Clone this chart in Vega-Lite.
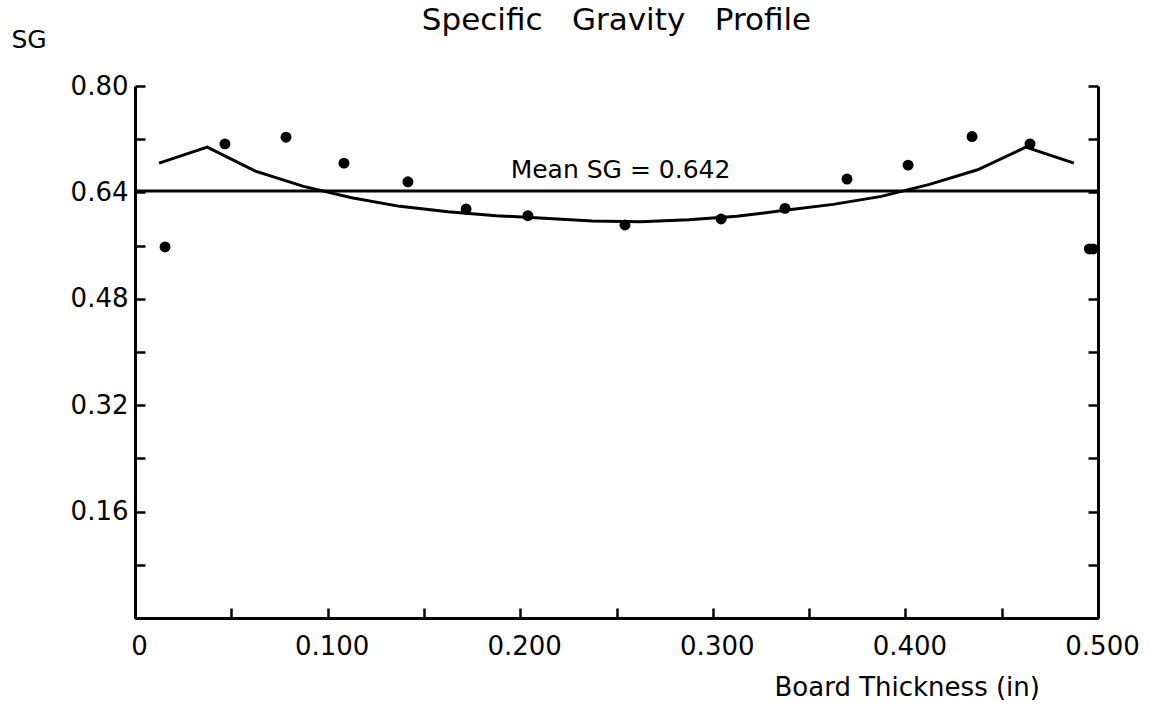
{
  "$schema": "https://vega.github.io/schema/vega-lite/v6.json",
  "width": 963,
  "height": 532,
  "autosize": {"type": "none"},
  "padding": {"left": 135, "top": 86, "right": 55, "bottom": 89},
  "background": "white",
  "config": {
    "font": "DejaVu Sans",
    "view": {"stroke": null},
    "axis": {"grid": false, "domainColor": "black", "tickColor": "black", "labelColor": "black", "titleColor": "black", "domainWidth": 3, "tickWidth": 2.5}
  },
  "title": {
    "text": "Specific \u00a0\u00a0Gravity \u00a0\u00a0Profile",
    "font": "DejaVu Sans",
    "fontSize": 31,
    "fontWeight": "normal",
    "color": "black",
    "anchor": "middle",
    "baseline": "alphabetic",
    "offset": -34
  },
  "datasets": {
    "points": [
      {"t": 0.0156, "sg": 0.558},
      {"t": 0.0467, "sg": 0.713},
      {"t": 0.0784, "sg": 0.723},
      {"t": 0.1085, "sg": 0.684},
      {"t": 0.1417, "sg": 0.656},
      {"t": 0.1719, "sg": 0.615},
      {"t": 0.2040, "sg": 0.605},
      {"t": 0.2544, "sg": 0.591},
      {"t": 0.3043, "sg": 0.600},
      {"t": 0.3375, "sg": 0.616},
      {"t": 0.3697, "sg": 0.660},
      {"t": 0.4014, "sg": 0.681},
      {"t": 0.4346, "sg": 0.724},
      {"t": 0.4647, "sg": 0.713},
      {"t": 0.4955, "sg": 0.555},
      {"t": 0.4975, "sg": 0.555}
    ],
    "profile": [
      {"t": 0.0125, "sg": 0.684},
      {"t": 0.0375, "sg": 0.708},
      {"t": 0.0625, "sg": 0.672},
      {"t": 0.0875, "sg": 0.649},
      {"t": 0.1125, "sg": 0.632},
      {"t": 0.1375, "sg": 0.619},
      {"t": 0.1625, "sg": 0.611},
      {"t": 0.1875, "sg": 0.605},
      {"t": 0.2125, "sg": 0.601},
      {"t": 0.2375, "sg": 0.597},
      {"t": 0.2625, "sg": 0.596},
      {"t": 0.2875, "sg": 0.599},
      {"t": 0.3125, "sg": 0.604},
      {"t": 0.3375, "sg": 0.613},
      {"t": 0.3625, "sg": 0.622},
      {"t": 0.3875, "sg": 0.634},
      {"t": 0.4125, "sg": 0.652},
      {"t": 0.4375, "sg": 0.674},
      {"t": 0.4625, "sg": 0.708},
      {"t": 0.4875, "sg": 0.684}
    ],
    "mean": [
      {"t": 0.25, "sg": 0.642, "label": "Mean SG = 0.642"}
    ]
  },
  "layer": [
    {
      "data": {"name": "mean"},
      "mark": {"type": "rule", "color": "black", "strokeWidth": 3},
      "encoding": {
        "y": {
          "field": "sg", "type": "quantitative",
          "scale": {"domain": [0, 0.8], "nice": false, "zero": false},
          "axis": {
            "orient": "left",
            "values": [0, 0.08, 0.16, 0.24, 0.32, 0.4, 0.48, 0.56, 0.64, 0.72, 0.8],
            "labelExpr": "datum.value > 0.01 && abs(datum.value / 0.16 - round(datum.value / 0.16)) < 0.001 ? format(datum.value, '.2f') : ''",
            "tickSize": -10,
            "labelPadding": 17,
            "labelFontSize": 26,
            "labelFont": "DejaVu Sans",
            "labelOverlap": false,
            "labelFlush": false,
            "title": "SG",
            "titleFont": "DejaVu Sans",
            "titleFontSize": 25,
            "titleFontWeight": "normal",
            "titleAngle": 0,
            "titleAlign": "left",
            "titleBaseline": "alphabetic",
            "titleX": -124,
            "titleY": -39
          }
        }
      }
    },
    {
      "data": {"name": "profile"},
      "mark": {"type": "line", "color": "black", "strokeWidth": 3},
      "encoding": {
        "x": {
          "field": "t", "type": "quantitative",
          "scale": {"domain": [0, 0.5], "nice": false, "zero": false},
          "axis": {
            "values": [0, 0.05, 0.1, 0.15, 0.2, 0.25, 0.3, 0.35, 0.4, 0.45, 0.5],
            "labelExpr": "abs(datum.value * 10 - round(datum.value * 10)) < 0.001 ? (datum.value == 0 ? '0' : format(datum.value, '.3f')) : ''",
            "tickSize": -10,
            "labelPadding": 25,
            "labelFontSize": 26,
            "labelFont": "DejaVu Sans",
            "labelOverlap": false,
            "labelFlush": false,
            "labelOffset": 4,
            "title": "Board Thickness (in)",
            "titleFont": "DejaVu Sans",
            "titleFontSize": 26,
            "titleFontWeight": "normal",
            "titleAlign": "left",
            "titleBaseline": "alphabetic",
            "titleX": 639,
            "titleY": 77
          }
        },
        "y": {
          "field": "sg", "type": "quantitative",
          "scale": {"domain": [0, 0.8], "nice": false, "zero": false},
          "axis": {
            "orient": "right",
            "values": [0, 0.08, 0.16, 0.24, 0.32, 0.4, 0.48, 0.56, 0.64, 0.72, 0.8],
            "labels": false,
            "tickSize": -10,
            "title": null
          }
        }
      }
    },
    {
      "data": {"name": "points"},
      "mark": {"type": "circle", "color": "black", "opacity": 1, "size": 120},
      "encoding": {
        "x": {"field": "t", "type": "quantitative"},
        "y": {"field": "sg", "type": "quantitative", "axis": null}
      }
    },
    {
      "data": {"name": "mean"},
      "mark": {"type": "text", "color": "black", "fontSize": 25, "font": "DejaVu Sans", "baseline": "alphabetic", "align": "center", "dy": -13, "dx": 4},
      "encoding": {
        "x": {"field": "t", "type": "quantitative"},
        "y": {"field": "sg", "type": "quantitative", "axis": null},
        "text": {"field": "label"}
      }
    }
  ],
  "resolve": {"axis": {"y": "independent"}}
}
